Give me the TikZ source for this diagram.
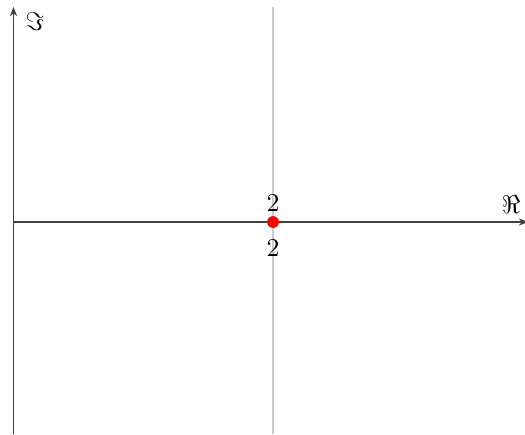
\documentclass[tikz,border=0pt]{standalone}
\usepackage{amssymb}
\usetikzlibrary{arrows.meta}
\begin{document}
\begin{tikzpicture}[x=0.39pt,y=-0.39pt,
  axis/.style={draw=black!75,line width=0.55pt,-{Stealth[length=3.6pt,width=2.8pt]}},
  guide/.style={draw=black!20,line width=0.4pt},
  lbl/.style={inner sep=0pt,font=\normalsize}]
\useasboundingbox (0,0) rectangle (525,434);
\coordinate (o) at (13.5,222);
\coordinate (ytop) at (13.5,7);
\coordinate (ybot) at (13.5,434);
\coordinate (xend) at (528,222);
\coordinate (gtop) at (273,7);
\coordinate (gbot) at (273,434);
\draw[guide] (gtop) -- (gbot);
\draw[axis] (o) -- (xend);
\draw[axis] (ybot) -- (ytop);
\node[lbl] (im) at (35,22) {$\Im$};
\node[lbl] (re) at (511,205) {$\Re$};
\node[circle,fill=red,inner sep=0pt,minimum size=4.6pt] (p) at (273,222) {};
\node[lbl] (a) at (273,203) {$2$};
\node[lbl] (b) at (273,248) {$2$};
\end{tikzpicture}
\end{document}
